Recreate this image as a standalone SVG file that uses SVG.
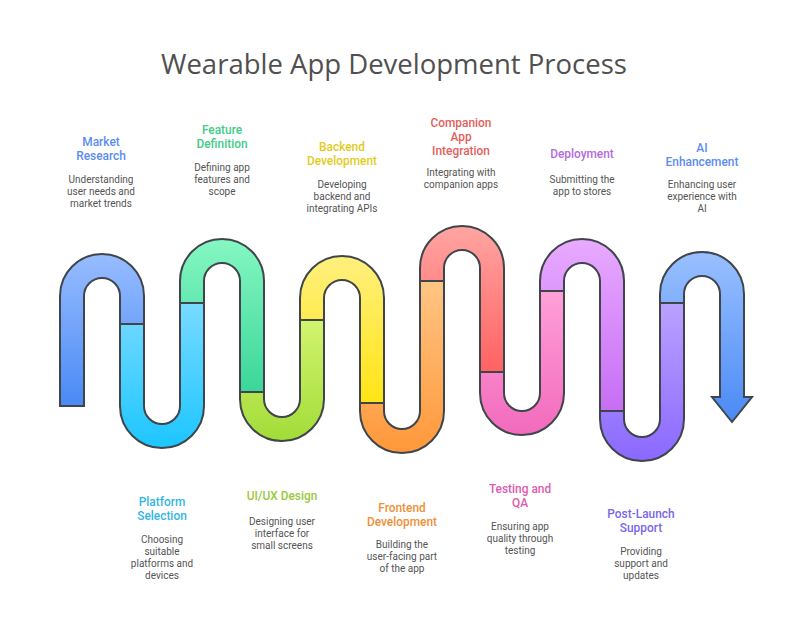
<svg xmlns="http://www.w3.org/2000/svg" width="789" height="630" viewBox="0 0 789 630">
<defs>
<linearGradient id="g1" x1="0" y1="0" x2="0" y2="1"><stop offset="0" stop-color="#97bcff"/><stop offset="1" stop-color="#4a8af5"/></linearGradient>
<linearGradient id="g2" x1="0" y1="0" x2="0" y2="1"><stop offset="0" stop-color="#78daff"/><stop offset="1" stop-color="#1cc6ff"/></linearGradient>
<linearGradient id="g3" x1="0" y1="0" x2="0" y2="1"><stop offset="0" stop-color="#85f7c2"/><stop offset="1" stop-color="#3bd699"/></linearGradient>
<linearGradient id="g4" x1="0" y1="0" x2="0" y2="1"><stop offset="0" stop-color="#d2f46e"/><stop offset="1" stop-color="#a2dc38"/></linearGradient>
<linearGradient id="g5" x1="0" y1="0" x2="0" y2="1"><stop offset="0" stop-color="#fff07e"/><stop offset="1" stop-color="#ffe414"/></linearGradient>
<linearGradient id="g6" x1="0" y1="0" x2="0" y2="1"><stop offset="0" stop-color="#ffc584"/><stop offset="1" stop-color="#ff983a"/></linearGradient>
<linearGradient id="g7" x1="0" y1="0" x2="0" y2="1"><stop offset="0" stop-color="#ffa5a2"/><stop offset="1" stop-color="#ff6262"/></linearGradient>
<linearGradient id="g8" x1="0" y1="0" x2="0" y2="1"><stop offset="0" stop-color="#ffa0d8"/><stop offset="1" stop-color="#f26abc"/></linearGradient>
<linearGradient id="g9" x1="0" y1="0" x2="0" y2="1"><stop offset="0" stop-color="#e8aaff"/><stop offset="1" stop-color="#c66ef4"/></linearGradient>
<linearGradient id="g10" x1="0" y1="0" x2="0" y2="1"><stop offset="0" stop-color="#b9a2ff"/><stop offset="1" stop-color="#8a68ff"/></linearGradient>
<linearGradient id="g11" x1="0" y1="0" x2="0" y2="1"><stop offset="0" stop-color="#99c0ff"/><stop offset="1" stop-color="#4a8af5"/></linearGradient>
</defs>
<style>
.seg{stroke:#3f454b;stroke-width:2;stroke-linejoin:miter}
text{font-family:Roboto,"Liberation Sans",sans-serif;text-anchor:middle}
.title{font-family:"Open Sans","Liberation Sans",sans-serif;font-size:27.5px;fill:#505050}
.h{font-size:11.9px;font-weight:500}
.d{font-size:10px;fill:#555555}
</style>
<rect width="789" height="630" fill="#ffffff"/>
<text class="title" x="394" y="74">Wearable App Development Process</text>
<g id="connectors">
<path class="seg" fill="url(#g1)" d="M60,406 V296 A42,42 0 0 1 144,296 V324 H120 V296 A18,18 0 0 0 84,296 V406 Z"/>
<path class="seg" fill="url(#g2)" d="M120,324 V406 A42,42 0 0 0 204,406 V303 H180 V406 A18,18 0 0 1 144,406 V324 Z"/>
<path class="seg" fill="url(#g3)" d="M180,303 V281 A42,42 0 0 1 264,281 V392 H240 V281 A18,18 0 0 0 204,281 V303 Z"/>
<path class="seg" fill="url(#g4)" d="M240,392 V399 A42,42 0 0 0 324,399 V320 H300 V399 A18,18 0 0 1 264,399 V392 Z"/>
<path class="seg" fill="url(#g5)" d="M300,320 V298 A42,42 0 0 1 384,298 V403 H360 V298 A18,18 0 0 0 324,298 V320 Z"/>
<path class="seg" fill="url(#g6)" d="M360,403 V411 A42,42 0 0 0 444,411 V281 H420 V411 A18,18 0 0 1 384,411 V403 Z"/>
<path class="seg" fill="url(#g7)" d="M420,281 V268 A42,42 0 0 1 504,268 V372 H480 V268 A18,18 0 0 0 444,268 V281 Z"/>
<path class="seg" fill="url(#g8)" d="M480,372 V393 A42,42 0 0 0 564,393 V291 H540 V393 A18,18 0 0 1 504,393 V372 Z"/>
<path class="seg" fill="url(#g9)" d="M540,291 V281 A42,42 0 0 1 624,281 V411 H600 V281 A18,18 0 0 0 564,281 V291 Z"/>
<path class="seg" fill="url(#g10)" d="M600,411 V419 A42,42 0 0 0 684,419 V303 H660 V419 A18,18 0 0 1 624,419 V411 Z"/>
<path class="seg" fill="url(#g11)" d="M660,303 V294 A42,42 0 0 1 744,294 V397 H752 L732,422 L712,397 H720 V294 A18,18 0 0 0 684,294 V303 Z"/>
</g>
<g id="market-research">
<text class="h" fill="#5b8def" y="146"><tspan x="101">Market</tspan><tspan x="101" dy="14">Research</tspan></text>
<text class="d" y="183"><tspan x="101">Understanding</tspan><tspan x="101" dy="12">user needs and</tspan><tspan x="101" dy="12">market trends</tspan></text>
</g>
<g id="platform-selection">
<text class="h" fill="#33b6e6" y="506"><tspan x="162">Platform</tspan><tspan x="162" dy="14">Selection</tspan></text>
<text class="d" y="543"><tspan x="162">Choosing</tspan><tspan x="162" dy="12">suitable</tspan><tspan x="162" dy="12">platforms and</tspan><tspan x="162" dy="12">devices</tspan></text>
</g>
<g id="feature-definition">
<text class="h" fill="#42cc88" y="134"><tspan x="222">Feature</tspan><tspan x="222" dy="14">Definition</tspan></text>
<text class="d" y="171"><tspan x="222">Defining app</tspan><tspan x="222" dy="12">features and</tspan><tspan x="222" dy="12">scope</tspan></text>
</g>
<g id="uiux-design">
<text class="h" fill="#9ac83a" x="282" y="500">UI/UX Design</text>
<text class="d" y="525"><tspan x="282">Designing user</tspan><tspan x="282" dy="12">interface for</tspan><tspan x="282" dy="12">small screens</tspan></text>
</g>
<g id="backend-development">
<text class="h" fill="#e2cc1c" y="151"><tspan x="342">Backend</tspan><tspan x="342" dy="14">Development</tspan></text>
<text class="d" y="188"><tspan x="342">Developing</tspan><tspan x="342" dy="12">backend and</tspan><tspan x="342" dy="12">integrating APIs</tspan></text>
</g>
<g id="frontend-development">
<text class="h" fill="#ee9038" y="512"><tspan x="402">Frontend</tspan><tspan x="402" dy="14">Development</tspan></text>
<text class="d" y="548"><tspan x="402">Building the</tspan><tspan x="402" dy="12">user-facing part</tspan><tspan x="402" dy="12">of the app</tspan></text>
</g>
<g id="companion-app-integration">
<text class="h" fill="#e45e5c" y="127"><tspan x="461">Companion</tspan><tspan x="461" dy="14">App</tspan><tspan x="461" dy="14">Integration</tspan></text>
<text class="d" y="176"><tspan x="461">Integrating with</tspan><tspan x="461" dy="12">companion apps</tspan></text>
</g>
<g id="testing-qa">
<text class="h" fill="#de5aae" y="493"><tspan x="520">Testing and</tspan><tspan x="520" dy="14">QA</tspan></text>
<text class="d" y="530"><tspan x="520">Ensuring app</tspan><tspan x="520" dy="12">quality through</tspan><tspan x="520" dy="12">testing</tspan></text>
</g>
<g id="deployment">
<text class="h" fill="#b46ade" x="582" y="158">Deployment</text>
<text class="d" y="183"><tspan x="582">Submitting the</tspan><tspan x="582" dy="12">app to stores</tspan></text>
</g>
<g id="post-launch-support">
<text class="h" fill="#7a66ea" y="518"><tspan x="641">Post-Launch</tspan><tspan x="641" dy="14">Support</tspan></text>
<text class="d" y="555"><tspan x="641">Providing</tspan><tspan x="641" dy="12">support and</tspan><tspan x="641" dy="12">updates</tspan></text>
</g>
<g id="ai-enhancement">
<text class="h" fill="#5b8def" y="152"><tspan x="702">AI</tspan><tspan x="702" dy="14">Enhancement</tspan></text>
<text class="d" y="188"><tspan x="702">Enhancing user</tspan><tspan x="702" dy="12">experience with</tspan><tspan x="702" dy="12">AI</tspan></text>
</g>
</svg>
